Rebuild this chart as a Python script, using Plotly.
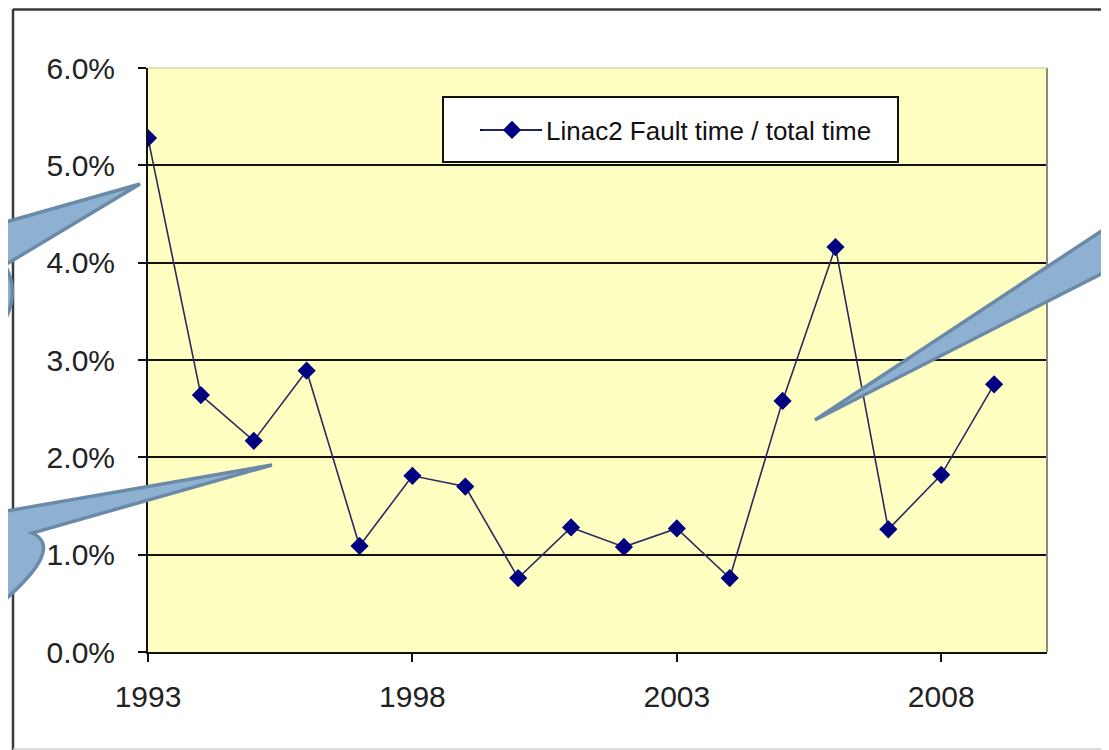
import plotly.graph_objects as go

# ---- data ----
years = [1993, 1994, 1995, 1996, 1997, 1998, 1999, 2000, 2001,
         2002, 2003, 2004, 2005, 2006, 2007, 2008, 2009]
fault_ratio = [0.0528, 0.0264, 0.0217, 0.0289, 0.0109, 0.0181, 0.0170, 0.0076, 0.0128,
               0.0108, 0.0127, 0.0076, 0.0258, 0.0416, 0.0126, 0.0182, 0.0275]
series_name = "Linac2 Fault time / total time"
x_tick_vals = [1993, 1998, 2003, 2008]
y_tick_vals = [0.0, 0.01, 0.02, 0.03, 0.04, 0.05, 0.06]

# ---- geometry (page has an 8px body margin) ----
OFF = 8
W, H = 1109 - OFF, 750 - OFF
L, T = 148 - OFF, 68 - OFF
R = W - (1047 - OFF)
B = H - (652 - OFF)
PW, PH = W - L - R, H - T - B


def px(x):  # screen pixel -> paper x
    return (x - OFF - L) / PW


def py(y):  # screen pixel -> paper y
    return (H - B - (y - OFF)) / PH


def P(x, y):
    return f"{px(x):.5f},{py(y):.5f}"


fig = go.Figure()
fig.add_trace(go.Scatter(
    x=years, y=fault_ratio, name=series_name, mode="lines+markers",
    line=dict(color="#2a2a60", width=1.6),
    marker=dict(symbol="diamond", size=14, color="#000080",
                line=dict(color="#000080", width=0)),
))

FONT = "Liberation Sans, Arial, sans-serif"

fig.update_layout(
    width=W, height=H,
    margin=dict(l=L, r=R, t=T, b=B),
    paper_bgcolor="white",
    plot_bgcolor="#FFFFC2",
    showlegend=True,
    font=dict(family=FONT, color="#222222"),
    legend=dict(
        x=px(478), y=py(130), xanchor="left", yanchor="middle",
        bgcolor="rgba(0,0,0,0)", borderwidth=0, itemwidth=58,
        font=dict(size=26, family=FONT, color="#111111"),
    ),
    xaxis=dict(
        range=[1993, 2010], tickvals=x_tick_vals, ticktext=[str(v) for v in x_tick_vals],
        showgrid=False, zeroline=False,
        showline=True, linecolor="#111111", linewidth=2,
        ticks="outside", ticklen=8, tickwidth=2, tickcolor="#111111",
        tickfont=dict(size=30, family=FONT, color="#222222"),
        ticklabelstandoff=9,
    ),
    yaxis=dict(
        range=[0, 0.06], tickvals=y_tick_vals, tickformat=".1%",
        showgrid=True, gridcolor="#111111", gridwidth=1.5,
        zeroline=False,
        showline=True, linecolor="#111111", linewidth=2,
        ticks="outside", ticklen=8, tickwidth=2, tickcolor="#111111",
        tickfont=dict(size=30, family=FONT, color="#222222"),
        ticklabelstandoff=17,
    ),
)

shapes = []
# plot area border: right & top
shapes.append(dict(type="line", xref="paper", yref="paper", x0=1, x1=1, y0=0, y1=1,
                   line=dict(color="#8a8a80", width=2), layer="above"))
shapes.append(dict(type="line", xref="paper", yref="paper", x0=0, x1=1, y0=1, y1=1,
                   line=dict(color="#d8d8b0", width=1.5), layer="above"))
# outer chart frame
shapes.append(dict(type="line", xref="paper", yref="paper", x0=px(13), x1=px(13),
                   y0=py(9), y1=py(760), line=dict(color="#3a3a3a", width=2.5), layer="above"))
shapes.append(dict(type="line", xref="paper", yref="paper", x0=px(13), x1=px(1130),
                   y0=py(9.5), y1=py(9.5), line=dict(color="#3a3a3a", width=2.5), layer="above"))
shapes.append(dict(type="line", xref="paper", yref="paper", x0=px(13), x1=px(1130),
                   y0=py(749), y1=py(749), line=dict(color="#d0d0d0", width=1.5), layer="above"))
# legend box
shapes.append(dict(type="rect", xref="paper", yref="paper", x0=px(443), x1=px(898),
                   y0=py(162), y1=py(97), fillcolor="white",
                   line=dict(color="#111111", width=2), layer="above"))
# longer legend sample line
shapes.append(dict(type="line", xref="paper", yref="paper", x0=px(480), x1=px(542),
                   y0=py(130), y1=py(130), line=dict(color="#000080", width=2), layer="above"))

callout_fill = "#8FB1D1"
callout_line = "#6A8AA8"
# top-left callout
shapes.append(dict(type="path", xref="paper", yref="paper",
                   path=f"M{P(-40,235)} L{P(140,184)} L{P(5,265)} Q{P(22,296)} {P(0,328)} L{P(-40,328)} Z",
                   fillcolor=callout_fill, line=dict(color=callout_line, width=3.5), layer="above"))
# bottom-left callout
shapes.append(dict(type="path", xref="paper", yref="paper",
                   path=f"M{P(-40,519)} L{P(272,465)} L{P(32,533)} Q{P(66,548)} {P(0,604)} L{P(-40,604)} Z",
                   fillcolor=callout_fill, line=dict(color=callout_line, width=3.5), layer="above"))
# right callout
shapes.append(dict(type="path", xref="paper", yref="paper",
                   path=f"M{P(1150,199)} L{P(815,420)} L{P(1150,249)} Z",
                   fillcolor=callout_fill, line=dict(color=callout_line, width=3.5), layer="above"))

fig.update_layout(shapes=shapes)
fig.write_html("out.html")
